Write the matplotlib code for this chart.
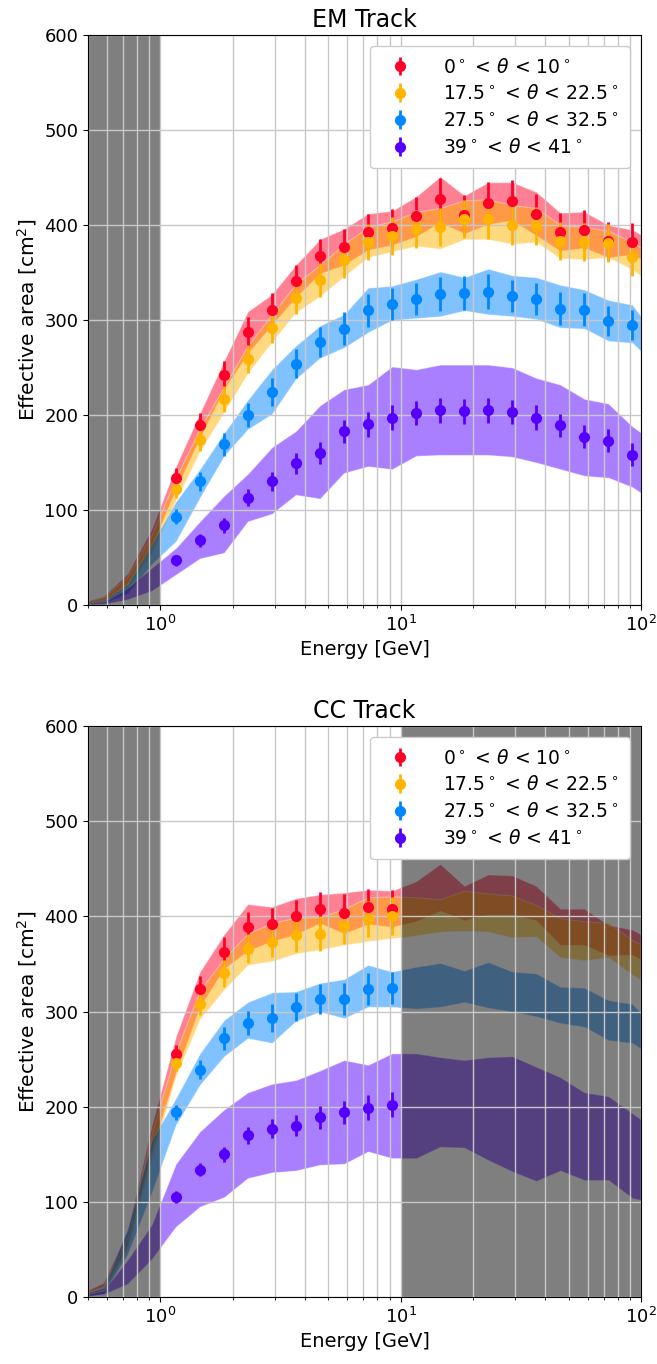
"""Effective area vs energy for EM / CC track selections, four zenith bins."""
import numpy as np
import matplotlib; matplotlib.use("Agg"); import matplotlib.pyplot as plt
from matplotlib.colors import to_rgba

E_PTS = [1.16, 1.46, 1.84, 2.31, 2.91, 3.66, 4.61, 5.81, 7.31, 9.20,
         11.6, 14.6, 18.4, 23.1, 29.1, 36.6, 46.1, 58.1, 73.1, 92.0]
E_BAND = [0.46, 0.58, 0.73, 0.92, 1.16, 1.46, 1.84, 2.31, 2.91, 3.66, 4.61, 5.81, 7.31,
          9.20, 11.6, 14.6, 18.4, 23.1, 29.1, 36.6, 46.1, 58.1, 73.1, 92.0, 115.8]

LABELS = [r"$0^\circ$ < $\theta$ < $10^\circ$", r"$17.5^\circ$ < $\theta$ < $22.5^\circ$",
          r"$27.5^\circ$ < $\theta$ < $32.5^\circ$", r"$39^\circ$ < $\theta$ < $41^\circ$"]
COLORS = ["#ff0028", "#ffb400", "#0087ff", "#5500ff"]

# EM track: points and stat errors
em_red = [134, 189, 242, 287, 311, 341, 367, 377, 393, 397, 409, 427, 411, 423, 425, 412, 393, 395, 383, 382]
em_orange = [122, 174, 217, 259, 292, 323, 342, 363, 382, 388, 396, 398, 406, 406, 400, 399, 383, 382, 381, 366]
em_blue = [93, 130, 169, 200, 224, 254, 277, 291, 310, 317, 322, 327, 328, 330, 325, 322, 312, 311, 299, 295]
em_purple = [47, 68, 84, 113, 130, 149, 160, 183, 190, 197, 202, 205, 204, 205, 203, 197, 189, 177, 173, 158]
err_red = [10, 13, 15, 16, 17, 17, 18, 19, 19, 20, 20, 22, 21, 22, 22, 21, 20, 21, 20, 20]
err_orange = [9, 12, 14, 15, 16, 17, 18, 19, 19, 20, 20, 20, 20, 21, 21, 20, 20, 20, 20, 20]
err_blue = [8, 10, 12, 13, 15, 15, 16, 17, 17, 17, 17, 18, 18, 18, 17, 17, 17, 17, 16, 16]
err_purple = [6, 7, 8, 9, 10, 11, 12, 12, 13, 13, 13, 13, 13, 13, 13, 13, 12, 12, 12, 12]

# EM track: systematic bands
em_red_hi = [2, 9, 33, 80, 146, 202, 257, 309, 327, 358, 385, 396, 412, 415, 430, 451, 431, 445, 445, 435, 413, 414, 400, 395, 381]
em_red_lo = [0, 4, 22, 62, 122, 176, 227, 265, 295, 324, 349, 358, 374, 379, 388, 403, 391, 401, 405, 389, 373, 376, 366, 369, 355]
em_orange_hi = [2, 8, 30, 74, 134, 186, 230, 273, 306, 338, 358, 380, 398, 404, 414, 418, 426, 427, 421, 418, 400, 398, 394, 382, 366]
em_orange_lo = [0, 3, 18, 55, 110, 162, 203, 244, 277, 308, 325, 346, 366, 372, 378, 375, 385, 385, 380, 382, 365, 364, 366, 353, 334]
em_blue_hi = [1, 5, 22, 64, 109, 143, 181, 216, 248, 273, 294, 306, 334, 336, 343, 351, 345, 354, 347, 345, 337, 332, 321, 316, 282]
em_blue_lo = [0, 2, 12, 43, 67, 113, 157, 185, 201, 238, 260, 271, 287, 300, 302, 304, 310, 306, 304, 301, 292, 291, 278, 276, 251]
em_purple_hi = [1, 3, 18, 39, 60, 88, 115, 138, 166, 183, 210, 227, 232, 251, 248, 253, 253, 253, 250, 239, 232, 217, 212, 188, 170]
em_purple_lo = [0, 1, 6, 15, 32, 49, 55, 88, 96, 116, 112, 139, 146, 143, 157, 158, 158, 158, 156, 150, 143, 136, 134, 124, 107]

# CC track: points (only below 10 GeV)
cc_red = [255, 324, 363, 389, 392, 400, 408, 404, 410, 408]
cc_orange = [246, 308, 340, 366, 373, 380, 382, 390, 397, 400]
cc_blue = [194, 239, 272, 288, 293, 305, 313, 313, 324, 325]
cc_purple = [105, 134, 150, 170, 177, 180, 189, 194, 199, 202]

# CC track: systematic bands
cc_red_hi = [3, 15, 70, 180, 274, 342, 381, 413, 410, 419, 423, 425, 428, 427, 437, 455, 432, 444, 443, 432, 408, 408, 391, 386, 372]
cc_red_lo = [0, 8, 55, 155, 236, 305, 345, 364, 374, 381, 393, 382, 392, 389, 395, 406, 396, 402, 402, 396, 370, 370, 359, 360, 345]
cc_orange_hi = [2, 11, 62, 172, 258, 322, 356, 382, 393, 399, 399, 408, 420, 421, 420, 418, 427, 424, 422, 412, 398, 395, 393, 375, 362]
cc_orange_lo = [0, 6, 50, 145, 232, 292, 323, 349, 353, 361, 365, 370, 374, 377, 380, 384, 385, 384, 378, 379, 357, 354, 357, 339, 322]
cc_blue_hi = [2, 10, 72, 165, 209, 256, 291, 310, 320, 321, 330, 334, 349, 342, 347, 351, 343, 352, 342, 340, 326, 325, 312, 308, 280]
cc_blue_lo = [0, 4, 45, 110, 181, 223, 253, 272, 267, 290, 300, 293, 305, 305, 303, 305, 310, 304, 300, 295, 288, 284, 270, 267, 250]
cc_purple_hi = [1, 7, 39, 76, 140, 174, 197, 215, 224, 228, 238, 249, 244, 256, 256, 252, 249, 252, 253, 242, 231, 215, 211, 193, 175]
cc_purple_lo = [0, 3, 14, 40, 74, 95, 105, 125, 131, 133, 139, 140, 153, 146, 146, 158, 157, 144, 132, 122, 133, 123, 123, 104, 99]


def panel(ax, title, pts, errs, bands, spans):
    for (lo, hi), c in zip(bands, COLORS):
        ax.fill_between(E_BAND, lo, hi, facecolor=to_rgba(c, 0.5),
                        edgecolor=to_rgba("white", 0.35), lw=0.8)
    for a, b in spans:
        ax.axvspan(a, b, color="k", alpha=0.5, lw=0)
    for y, e, c, lab in zip(pts, errs, COLORS, LABELS):
        ax.errorbar(E_PTS[:len(y)], y, yerr=e[:len(y)], fmt="o", color=c, ms=7,
                    elinewidth=2, capsize=0, label=lab)
    ax.set_xscale("log")
    ax.set_xlim(0.5, 100)
    ax.set_ylim(0, 600)
    ax.grid(True, which="both", color="#c8c8c8", lw=1)
    ax.set_xlabel("Energy [GeV]", fontsize=14)
    ax.set_ylabel(r"Effective area [cm$^2$]", fontsize=14.5)
    ax.set_title(title, fontsize=17)
    ax.tick_params(labelsize=13)
    ax.legend(loc="upper right", fontsize=13.5, framealpha=1, handletextpad=1.3,
              labelspacing=0.42, borderpad=0.6, borderaxespad=0.6)


fig = plt.figure(figsize=(6.57, 13.64), dpi=100)
ax1 = fig.add_axes([0.134, 0.5565, 0.8417, 0.4178])
ax2 = fig.add_axes([0.134, 0.0491, 0.8417, 0.4186])

panel(ax1, "EM Track",
      [em_red, em_orange, em_blue, em_purple],
      [err_red, err_orange, err_blue, err_purple],
      [(em_red_lo, em_red_hi), (em_orange_lo, em_orange_hi),
       (em_blue_lo, em_blue_hi), (em_purple_lo, em_purple_hi)],
      [(0.5, 1.0)])
panel(ax2, "CC Track",
      [cc_red, cc_orange, cc_blue, cc_purple],
      [err_red, err_orange, err_blue, err_purple],
      [(cc_red_lo, cc_red_hi), (cc_orange_lo, cc_orange_hi),
       (cc_blue_lo, cc_blue_hi), (cc_purple_lo, cc_purple_hi)],
      [(0.5, 1.0), (10, 100)])

fig.savefig("out.png", dpi=100)
